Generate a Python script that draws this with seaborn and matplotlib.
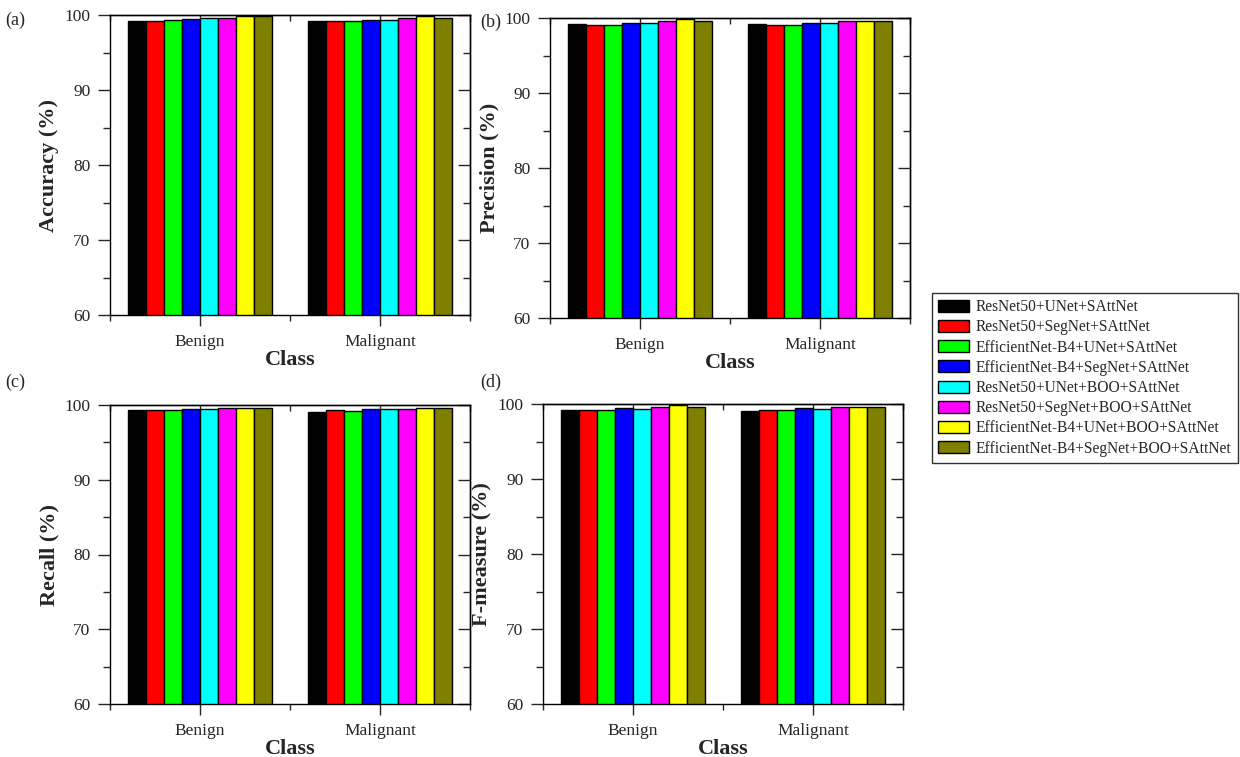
import matplotlib
matplotlib.use("Agg")
import matplotlib.pyplot as plt
from matplotlib.patches import Patch
from matplotlib.ticker import MultipleLocator, FixedLocator, NullFormatter
import seaborn as sns
import pandas as pd

classes = ["Benign", "Malignant"]
models = [
    "ResNet50+UNet+SAttNet",
    "ResNet50+SegNet+SAttNet",
    "EfficientNet-B4+UNet+SAttNet",
    "EfficientNet-B4+SegNet+SAttNet",
    "ResNet50+UNet+BOO+SAttNet",
    "ResNet50+SegNet+BOO+SAttNet",
    "EfficientNet-B4+UNet+BOO+SAttNet",
    "EfficientNet-B4+SegNet+BOO+SAttNet",
]
colors = ["#000000", "#ff0000", "#00ff00", "#0000ff", "#00ffff", "#ff00ff", "#ffff00", "#808000"]

accuracy_benign = [99.25, 99.15, 99.4, 99.45, 99.55, 99.6, 99.85, 99.85]
accuracy_malignant = [99.25, 99.15, 99.15, 99.4, 99.4, 99.6, 99.85, 99.6]
precision_benign = [99.2, 99.1, 99.1, 99.35, 99.35, 99.6, 99.85, 99.55]
precision_malignant = [99.2, 99.1, 99.1, 99.35, 99.35, 99.55, 99.55, 99.55]
recall_benign = [99.3, 99.3, 99.3, 99.45, 99.4, 99.65, 99.6, 99.65]
recall_malignant = [99.1, 99.3, 99.2, 99.45, 99.4, 99.4, 99.65, 99.65]
fmeasure_benign = [99.25, 99.2, 99.2, 99.45, 99.4, 99.6, 99.85, 99.6]
fmeasure_malignant = [99.05, 99.25, 99.2, 99.45, 99.4, 99.6, 99.55, 99.55]

y_ticks = [60, 70, 80, 90, 100]

panels = [
    ("(a)", "Accuracy (%)", accuracy_benign, accuracy_malignant, (110, 15, 470, 315), (5, 20)),
    ("(b)", "Precision (%)", precision_benign, precision_malignant, (550, 18, 910, 318), (480, 22)),
    ("(c)", "Recall (%)", recall_benign, recall_malignant, (110, 405, 470, 704), (5, 382)),
    ("(d)", "F-measure (%)", fmeasure_benign, fmeasure_malignant, (543, 404, 903, 704), (480, 382)),
]

sns.set_style("ticks")
plt.rcParams["font.family"] = ["Liberation Serif", "DejaVu Serif"]
plt.rcParams["axes.linewidth"] = 1.0

W, H = 1240, 757
fig = plt.figure(figsize=(W / 100, H / 100), dpi=100)

for tag, ylabel, vb, vm, (x0, y0, x1, y1), (tx, ty) in panels:
    ax = fig.add_axes([x0 / W, 1 - y1 / H, (x1 - x0) / W, (y1 - y0) / H])
    df = pd.DataFrame({
        "Class": [classes[0]] * len(models) + [classes[1]] * len(models),
        "Model": models * 2,
        "Value": list(vb) + list(vm),
    })
    sns.barplot(data=df, x="Class", y="Value", hue="Model", hue_order=models,
                palette=colors, saturation=1, width=0.8, edgecolor="black", linewidth=1.0,
                legend=False, ax=ax, errorbar=None)
    ax.set_ylim(60, 100)
    ax.set_xlim(-0.5, 1.5)
    ax.set_yticks(y_ticks)
    ax.yaxis.set_minor_locator(MultipleLocator(5))
    ax.xaxis.set_minor_locator(FixedLocator([-0.5, 0.5, 1.5]))
    ax.tick_params(axis="y", which="major", direction="out", length=9, width=1, labelsize=12.5, pad=5)
    ax.tick_params(axis="y", which="minor", direction="out", length=5, width=1)
    ax.tick_params(axis="x", which="major", direction="out", length=8, width=1, labelsize=12.5, pad=6)
    ax.tick_params(axis="x", which="minor", direction="out", length=4, width=1)
    for s in ax.spines.values():
        s.set_visible(True)
        s.set_linewidth(1.0)
        s.set_color("black")
    ax.set_xlabel("Class", fontsize=16, fontweight="bold", labelpad=0)
    ax.set_ylabel(ylabel, fontsize=16, fontweight="bold", labelpad=4)

    secy = ax.secondary_yaxis("right")
    secy.set_yticks(y_ticks)
    secy.yaxis.set_minor_locator(MultipleLocator(5))
    secy.yaxis.set_major_formatter(NullFormatter())
    secy.tick_params(which="major", direction="in", length=9, width=1)
    secy.tick_params(which="minor", direction="in", length=5, width=1)
    secy.spines["right"].set_linewidth(1.0)

    secx = ax.secondary_xaxis("top")
    secx.set_xticks([0, 1])
    secx.xaxis.set_minor_locator(FixedLocator([-0.5, 0.5, 1.5]))
    secx.xaxis.set_major_formatter(NullFormatter())
    secx.tick_params(which="major", direction="in", length=8, width=1)
    secx.tick_params(which="minor", direction="in", length=4, width=1)
    secx.spines["top"].set_linewidth(1.0)

    fig.text(tx / W, 1 - ty / H, tag, fontsize=13, ha="left", va="center")

handles = [Patch(facecolor=c, edgecolor="black", linewidth=1.0) for c in colors]
leg = fig.legend(handles, models, loc="upper left", bbox_to_anchor=(932 / W, 1 - 293 / H),
                 frameon=True, fancybox=False, shadow=False, fontsize=11.2,
                 handlelength=2.0, handleheight=0.8, labelspacing=0.27,
                 borderpad=0.4, handletextpad=0.4, borderaxespad=0)
leg.get_frame().set_edgecolor("black")
leg.get_frame().set_linewidth(1.0)

fig.savefig("out.png", dpi=100)
